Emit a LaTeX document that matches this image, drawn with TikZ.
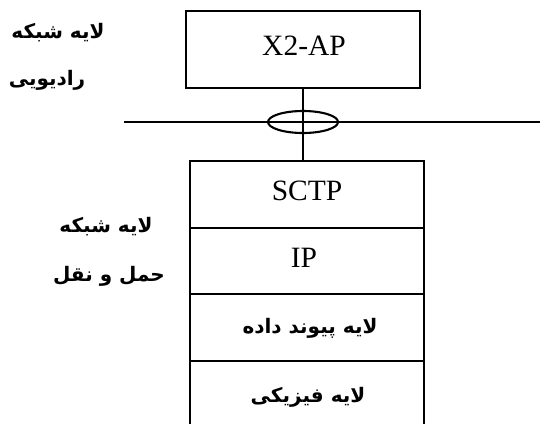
\documentclass[tikz,border=0pt]{standalone}
\usepackage{fontspec}
\setmainfont{Liberation Serif}
\newfontfamily\fa[Script=Arabic]{DejaVu Sans}
\TeXXeTstate=1
\usetikzlibrary{shapes.geometric}
\begin{document}
\begin{tikzpicture}[x=1pt,y=-1pt,
  lw/.style={line width=2.1pt},
  lat/.style={font=\fontsize{29.5}{31}\selectfont,inner sep=0pt},
  cell/.style={lw,draw,minimum width=234pt,inner sep=0pt,outer sep=0pt},
  fatxt/.style={font=\fa\bfseries\fontsize{20}{23}\selectfont,inner sep=0pt}]
\useasboundingbox (0,0) rectangle (540,423);
% top box
\node[cell,minimum height=77pt] (x2ap) at (303,49.5) {};
\node[lat] (x2apt) at (304,46) {X2-AP};
% lower stack
\node[cell,minimum height=67pt] (sctp) at (307,194.5) {};
\node[lat] (sctpt) at (307,191) {SCTP};
\node[cell,minimum height=66pt] (ip) at (307,261) {};
\node[lat] (ipt) at (304,258) {IP};
\node[cell,minimum height=67pt] (link) at (307,327.5) {};
\node[fatxt] (linkt) at (310,328) {\beginR لایه پیوند داده\endR};
\coordinate (pl) at (190,424);
\coordinate (pr) at (424,424);
\node[fatxt] (phyt) at (308,397) {\beginR لایه فیزیکی\endR};
\draw[lw] (link.south west) -- (pl);
\draw[lw] (link.south east) -- (pr);
% connector and interface
\draw[lw] (x2ap.south) -- (x2ap.south |- sctp.north);
\coordinate (hl) at (124,122);
\coordinate (hr) at (540,122);
\draw[lw] (hl) -- (hr);
\node[lw,draw,ellipse,minimum width=70pt,minimum height=22pt,inner sep=0pt] (el) at (303,122) {};
% left labels
\node[fatxt] (ra1) at (58,33) {\beginR لایه شبکه\endR};
\node[fatxt] (ra2) at (47,80) {\beginR رادیویی\endR};
\node[fatxt] (tr1) at (106,227) {\beginR لایه شبکه\endR};
\node[fatxt] (tr2) at (109,276) {\beginR حمل و نقل\endR};
\end{tikzpicture}
\end{document}
